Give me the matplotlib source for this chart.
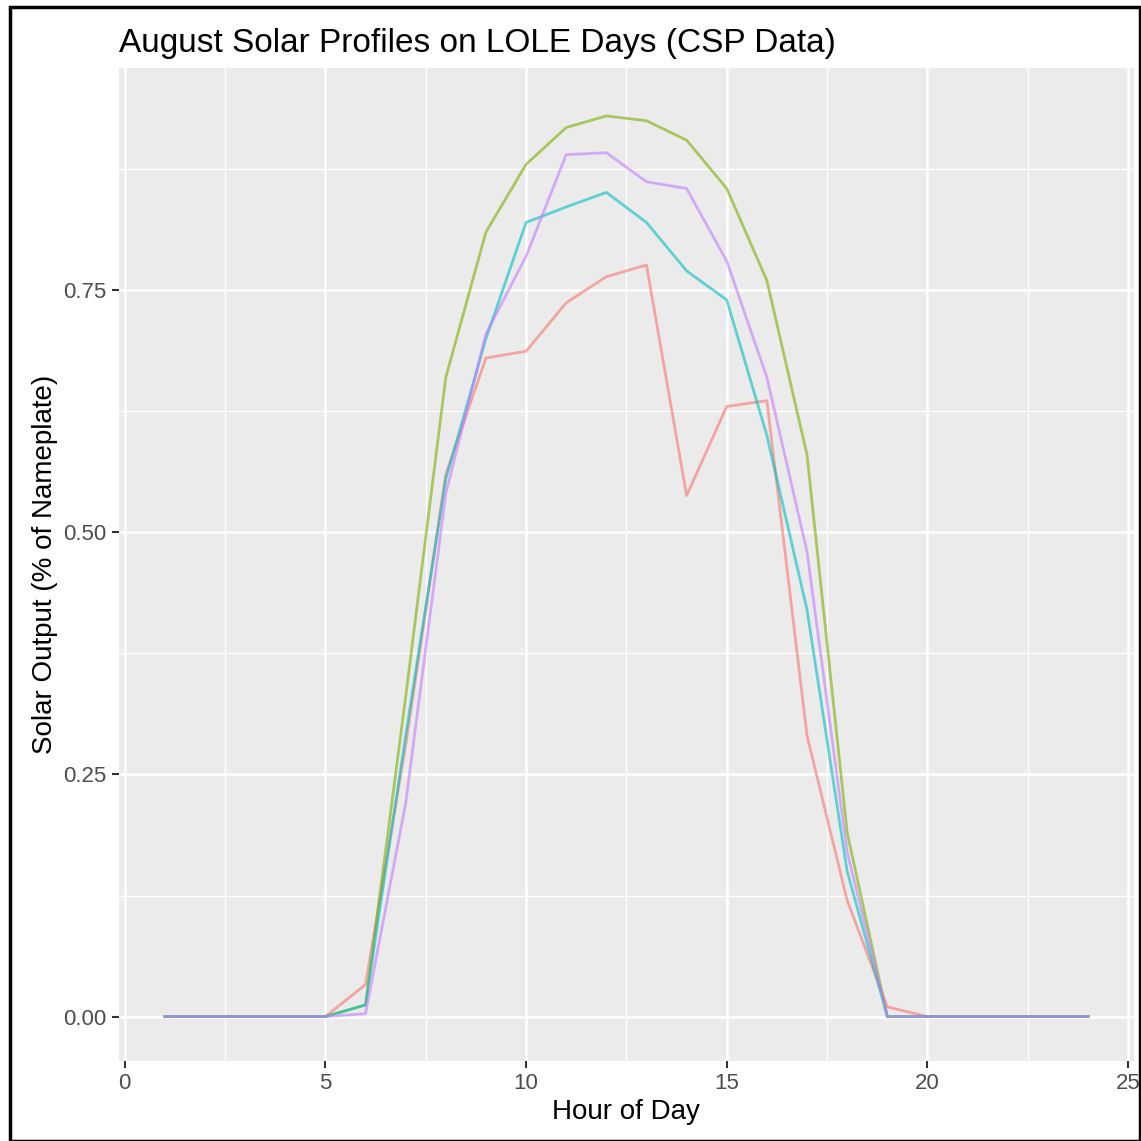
import matplotlib.pyplot as plt
from matplotlib.patches import Rectangle

plt.rcParams['font.family'] = ['Liberation Sans', 'DejaVu Sans']

hours = list(range(1, 25))
zeros_tail = [0.0] * 5
red = [0, 0, 0, 0, 0, 0.033, 0.28, 0.56, 0.68, 0.687, 0.737, 0.764, 0.776, 0.538, 0.63, 0.636, 0.29, 0.12, 0.01] + zeros_tail
green = [0, 0, 0, 0, 0, 0.012, 0.33, 0.66, 0.81, 0.88, 0.918, 0.93, 0.925, 0.905, 0.855, 0.76, 0.58, 0.19, 0.0] + zeros_tail
teal = [0, 0, 0, 0, 0, 0.012, 0.29, 0.555, 0.70, 0.82, 0.836, 0.851, 0.82, 0.77, 0.74, 0.60, 0.42, 0.15, 0.0] + zeros_tail
purple = [0, 0, 0, 0, 0, 0.003, 0.22, 0.54, 0.705, 0.785, 0.89, 0.892, 0.862, 0.855, 0.78, 0.66, 0.48, 0.17, 0.0] + zeros_tail

series = [(red, "#F8766D"), (green, "#7CAE00"), (teal, "#00BFC4"), (purple, "#C77CFF")]

fig = plt.figure(figsize=(11.41, 11.41), dpi=100)
ax = fig.add_axes([0.104, 0.070, 0.890, 0.870])
ax.set_facecolor("#EBEBEB")

for vals, col in series:
    ax.plot(hours, vals, color=col, alpha=0.6, lw=2)

ax.set_xlim(-0.15, 25.15)
ax.set_ylim(-0.046, 0.979)
ax.set_xticks([0, 5, 10, 15, 20, 25])
ax.set_yticks([0, 0.25, 0.5, 0.75])
ax.set_yticklabels(["0.00", "0.25", "0.50", "0.75"])
ax.set_xticks([2.5, 7.5, 12.5, 17.5, 22.5], minor=True)
ax.set_yticks([0.125, 0.375, 0.625, 0.875], minor=True)
ax.grid(which="major", color="white", lw=1.8)
ax.grid(which="minor", color="white", lw=0.9)
ax.set_axisbelow(True)
for s in ax.spines.values():
    s.set_visible(False)
ax.tick_params(which="major", length=5, width=1.5, color="#333333", labelsize=16, labelcolor="#4D4D4D")
ax.tick_params(which="minor", length=0)
ax.set_xlabel("Hour of Day", fontsize=20)
ax.set_ylabel("Solar Output (% of Nameplate)", fontsize=20)
ax.set_title("August Solar Profiles on LOLE Days (CSP Data)", fontsize=24, loc="left", x=-0.0, pad=12)

fig.patches.append(Rectangle((0.009, 0.0), 0.99, 0.994, transform=fig.transFigure,
                             fill=False, edgecolor="black", lw=2.5))
fig.savefig("out.png", dpi=100)
